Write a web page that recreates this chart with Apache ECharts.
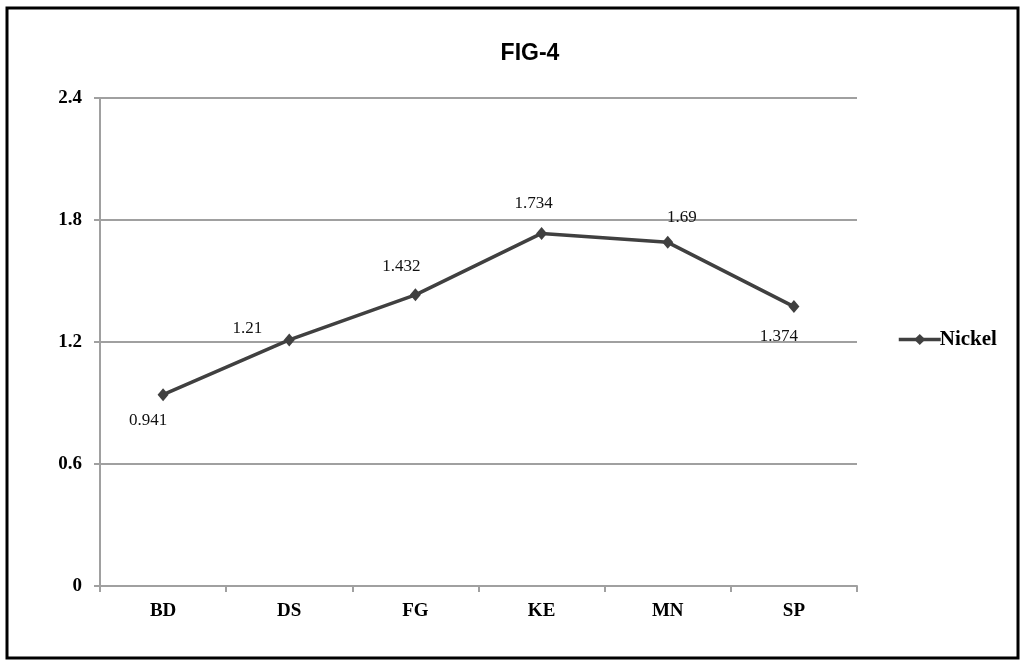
<!DOCTYPE html>
<html><head><meta charset="utf-8">
<script src="https://cdn.jsdelivr.net/npm/echarts@6/dist/echarts.min.js"></script>
<style>html,body{margin:0;padding:0;background:#fff}#c{width:1025px;height:664px}</style>
</head><body><div id="c"></div>
<script>
const categories = ['BD','DS','FG','KE','MN','SP'];
const nickel = [0.941, 1.21, 1.432, 1.734, 1.69, 1.374];
const yTicks = [0, 0.6, 1.2, 1.8, 2.4];
const labelOffsets = [[-15,26],[-42,-11],[-14,-28],[-8,-30],[14,-25],[-15,30]];

const chart = echarts.init(document.getElementById('c'));
chart.setOption({
  animation:false,
  backgroundColor:'#fff',
  title:{text:'FIG-4',left:525,top:37,textAlign:'center',textStyle:{fontFamily:'Liberation Sans',fontWeight:'bold',fontSize:23,color:'#000'}},
  graphic:[{type:'rect',shape:{x:7,y:8,width:1011,height:650},style:{fill:'none',stroke:'#000',lineWidth:3},z:-1}],
  legend:{left:892,top:324,orient:'vertical',itemWidth:42,itemHeight:14,
    data:['Nickel'],
    lineStyle:{width:3.5,color:'#404040'},
    textStyle:{fontFamily:'Liberation Serif',fontWeight:'bold',fontSize:21,color:'#000',padding:[0,0,0,-6]}},
  grid:{left:100,right:168,top:98,bottom:78},
  xAxis:{type:'category',data:categories,boundaryGap:true,
    axisLine:{lineStyle:{color:'#a0a0a0',width:2}},
    axisTick:{show:true,length:6,lineStyle:{color:'#a0a0a0',width:2}},
    axisLabel:{margin:16,fontFamily:'Liberation Serif',fontWeight:'bold',fontSize:19,color:'#000'}},
  yAxis:{type:'value',min:0,max:2.4,interval:0.6,
    axisLine:{show:true,lineStyle:{color:'#a0a0a0',width:2}},
    axisTick:{show:true,length:6,lineStyle:{color:'#a0a0a0',width:2}},
    splitLine:{lineStyle:{color:'#a0a0a0',width:2}},
    axisLabel:{margin:18,fontFamily:'Liberation Serif',fontWeight:'bold',fontSize:19,color:'#000',
      formatter:v=>{const t=yTicks.find(x=>Math.abs(x-v)<1e-9);return t===undefined?'':String(t);}}},
  series:[{name:'Nickel',type:'line',
    data:nickel.map((v,i)=>({value:v,label:{offset:labelOffsets[i]}})),
    symbol:'path://M0,5L3.5,0L7,5L3.5,10Z',symbolSize:[11,13],
    lineStyle:{color:'#404040',width:3.5},itemStyle:{color:'#404040'},
    label:{show:true,position:'inside',fontFamily:'Liberation Serif',fontSize:17,color:'#111'}}]
});
</script></body></html>
